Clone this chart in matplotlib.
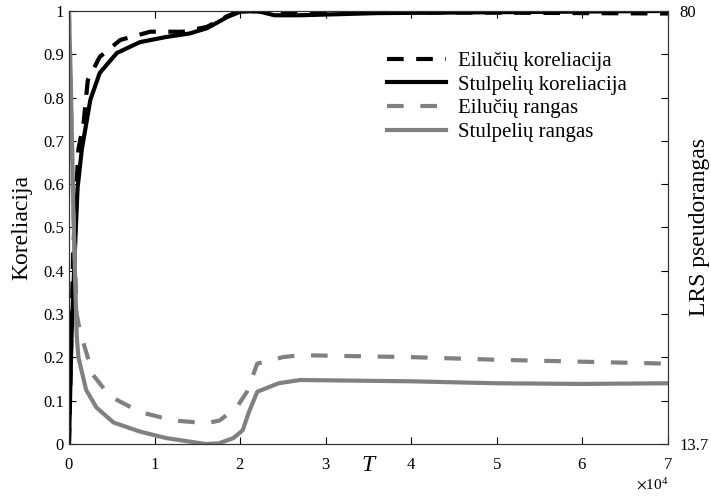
import matplotlib
matplotlib.use("Agg")
import matplotlib.pyplot as plt
import numpy as np

plt.rcParams["font.family"] = ["Liberation Serif", "DejaVu Serif"]
plt.rcParams["mathtext.fontset"] = "stix"

# correlation curves (left axis)
t_col_corr = [0, 300, 700, 1000, 1500, 2500, 3600, 5600, 8300, 11400, 14100,
              16100, 17500, 18500, 20000, 22000, 24000, 27000, 36000, 50000, 70000]
col_corr = [0, 0.25, 0.45, 0.59, 0.68, 0.795, 0.857, 0.903, 0.928, 0.94, 0.948,
            0.96, 0.975, 0.986, 0.998, 1.0, 0.99, 0.99, 0.995, 0.997, 1.0]

t_row_corr = [0, 500, 1100, 1700, 2200, 3600, 6000, 9500, 13300, 16100, 18500,
              20000, 23000, 30000, 50000, 70000]
row_corr = [0, 0.45, 0.68, 0.74, 0.84, 0.894, 0.933, 0.952, 0.952, 0.963, 0.988,
            1.0, 0.998, 0.997, 0.996, 0.994]

# rank curves (right axis)
t_col_rank = [0, 200, 500, 700, 900, 1100, 2000, 3200, 5200, 8300, 11400, 16000,
              17500, 19200, 20300, 21000, 22000, 24500, 27000, 40000, 50000, 60000, 70000]
col_rank = [80, 70.1, 50.2, 40.2, 30.3, 27.0, 22.0, 19.3, 17.0, 15.6, 14.6, 13.7,
            13.8, 14.6, 15.8, 18.5, 21.7, 23.0, 23.5, 23.3, 23.0, 22.9, 23.0]

t_row_rank = [0, 500, 900, 1300, 2800, 4800, 8300, 12200, 16100, 17600, 19600,
              20800, 22000, 25000, 27000, 40000, 50000, 60000, 70000]
row_rank = [80, 50.2, 33.6, 30.9, 24.3, 21.0, 18.6, 17.3, 16.9, 17.3, 19.3,
            21.7, 26.0, 27.0, 27.3, 27.0, 26.6, 26.3, 26.0]

rank_min, rank_max = 13.7, 80

grey = "#808080"
fig = plt.figure(figsize=(7.11, 4.97), dpi=100)
ax = fig.add_axes([0.097, 0.1066, 0.8425, 0.8714])
ax2 = ax.twinx()

h1, = ax.plot(t_row_corr, row_corr, color="black", lw=3, dashes=(4, 3),
              label="Eilučių koreliacija")
h2, = ax.plot(t_col_corr, col_corr, color="black", lw=3,
              label="Stulpelių koreliacija")
h3, = ax2.plot(t_row_rank, row_rank, color=grey, lw=3, dashes=(4, 4),
               label="Eilučių rangas")
h4, = ax2.plot(t_col_rank, col_rank, color=grey, lw=3,
               label="Stulpelių rangas")

ax.set_xlim(0, 70000)
ax.set_ylim(0, 1)
ax.set_yticks(np.arange(0, 1.01, 0.1))
ax.set_yticklabels(["0"] + ["%.1f" % v for v in np.arange(0.1, 0.95, 0.1)] + ["1"])
ax.set_xticks(np.arange(0, 70001, 10000))
ax.ticklabel_format(axis="x", style="sci", scilimits=(4, 4), useMathText=True)
ax.xaxis.get_offset_text().set_fontsize(11)
ax.tick_params(direction="in", length=5, labelsize=12, top=True, right=False)
ax.tick_params(axis="x", pad=9)

ax2.set_ylim(rank_min, rank_max)
rticks = np.linspace(rank_min, rank_max, 11)
ax2.set_yticks(rticks)
ax2.set_yticklabels(["13.7"] + [""] * 9 + ["80"])
ax2.tick_params(direction="in", length=5, labelsize=12, pad=8)

for a in (ax, ax2):
    for s in a.spines.values():
        s.set_linewidth(0.8)
        s.set_color("#333333")

ax.set_ylabel("Koreliacija", fontsize=17, labelpad=8)
ax2.set_ylabel("LRS pseudorangas", fontsize=17)
ax2.yaxis.set_label_coords(1.035, 0.5)
ax.set_xlabel("T", fontsize=17, style="italic")
ax.xaxis.set_label_coords(0.5, -0.025)

ax2.legend(handles=[h1, h2, h3, h4], loc="upper left",
           bbox_to_anchor=(0.5, 0.95), frameon=False, fontsize=15,
           handlelength=2.8, labelspacing=0.2, handletextpad=0.6)

fig.savefig("out.png", dpi=100)
